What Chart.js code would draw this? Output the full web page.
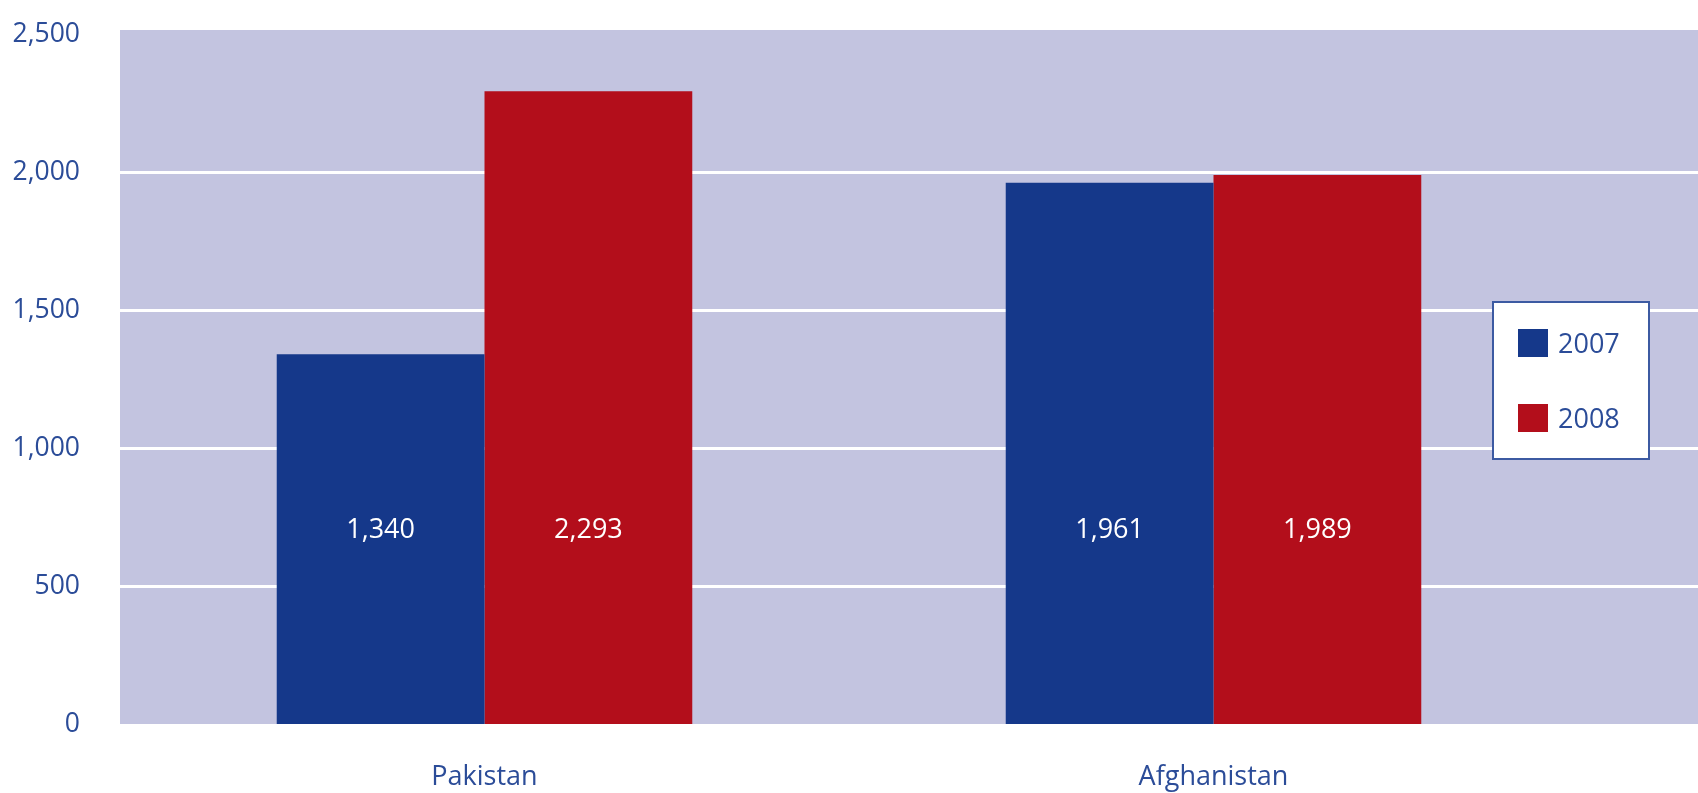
<!DOCTYPE html>
<html>
<head>
<meta charset="utf-8">
<script src="https://cdn.jsdelivr.net/npm/chart.js@4"></script>
<style>
  html, body { margin: 0; padding: 0; background: #ffffff; }
  #wrap { width: 1698px; height: 793px; position: relative; }
</style>
</head>
<body>
<div id="wrap"><canvas id="c" width="1698" height="793"></canvas></div>
<script>
const categories = ["Pakistan", "Afghanistan"];
const seriesLabels = ["2007", "2008"];
const values2007 = [1340, 1961];
const values2008 = [2293, 1989];
const yTicks = [0, 500, 1000, 1500, 2000, 2500];

const BLUE = "#15388a";
const RED = "#b30e1b";
const BG = "#c3c4e0";
const TEXT = "#2b4c98";
const FONT = "'Open Sans', 'Noto Sans', sans-serif";

const bgPlugin = {
  id: "bgPlugin",
  beforeDatasetsDraw(chart) {
    const { ctx, chartArea } = chart;
    const y = chart.scales.y;
    ctx.save();
    ctx.fillStyle = BG;
    ctx.fillRect(chartArea.left, chartArea.top - 4, chart.width - chartArea.left, chartArea.bottom - chartArea.top + 4);
    ctx.strokeStyle = "#ffffff";
    ctx.lineWidth = 3;
    yTicks.forEach(v => {
      if (v === 0 || v === 2500) return;
      const py = Math.round(y.getPixelForValue(v)) + 0.5;
      ctx.beginPath();
      ctx.moveTo(chartArea.left, py);
      ctx.lineTo(chart.width, py);
      ctx.stroke();
    });
    ctx.restore();
  },
  afterDatasetsDraw(chart) {
    const { ctx } = chart;
    const y = chart.scales.y;
    ctx.save();
    ctx.fillStyle = "#ffffff";
    ctx.font = "27px " + FONT;
    ctx.textAlign = "center";
    ctx.textBaseline = "middle";
    const labelY = y.getPixelForValue(700);
    chart.data.datasets.forEach((ds, di) => {
      const meta = chart.getDatasetMeta(di);
      meta.data.forEach((bar, i) => {
        ctx.fillText(ds.data[i].toLocaleString("en-US"), bar.x, labelY);
      });
    });
    // legend
    const lx = chart.chartArea.right - 85, ly = 302, lw = 156, lh = 157;
    ctx.fillStyle = "#ffffff";
    ctx.fillRect(lx, ly, lw, lh);
    ctx.strokeStyle = "#3c5aa2";
    ctx.lineWidth = 2;
    ctx.strokeRect(lx, ly, lw, lh);
    ctx.font = "27px " + FONT;
    ctx.textAlign = "left";
    chart.data.datasets.forEach((ds, di) => {
      const sy = ly + 27 + di * 75;
      ctx.fillStyle = ds.backgroundColor;
      ctx.fillRect(lx + 25, sy, 30, 28);
      ctx.fillStyle = TEXT;
      ctx.fillText(ds.label, lx + 65, sy + 16);
    });
    ctx.restore();
  }
};

new Chart(document.getElementById("c"), {
  type: "bar",
  data: {
    labels: categories,
    datasets: [
      { label: seriesLabels[0], data: values2007, backgroundColor: BLUE, categoryPercentage: 0.57, barPercentage: 1.0 },
      { label: seriesLabels[1], data: values2008, backgroundColor: RED, categoryPercentage: 0.57, barPercentage: 1.0 }
    ]
  },
  options: {
    responsive: false,
    animation: false,
    devicePixelRatio: 1,
    layout: { padding: { top: 34, right: 120, left: 0, bottom: 0 } },
    plugins: {
      legend: { display: false },
      tooltip: { enabled: false }
    },
    scales: {
      x: {
        grid: { display: false, drawTicks: false },
        border: { display: false },
        ticks: { color: TEXT, font: { family: FONT, size: 27 }, padding: 37 },
        afterFit(s) { s.height = 69; s.paddingLeft = 0; s.paddingRight = 0; }
      },
      y: {
        min: 0, max: 2500,
        afterBuildTicks(s) { s.ticks = yTicks.map(v => ({ value: v })); },
        grid: { display: false, drawTicks: false },
        border: { display: false },
        ticks: {
          color: TEXT, font: { family: FONT, size: 26.5 }, padding: 40,
          callback: v => v.toLocaleString("en-US")
        },
        afterFit(s) { s.width = 120; s.paddingTop = 0; s.paddingBottom = 0; }
      }
    }
  },
  plugins: [bgPlugin]
});
</script>
</body>
</html>
